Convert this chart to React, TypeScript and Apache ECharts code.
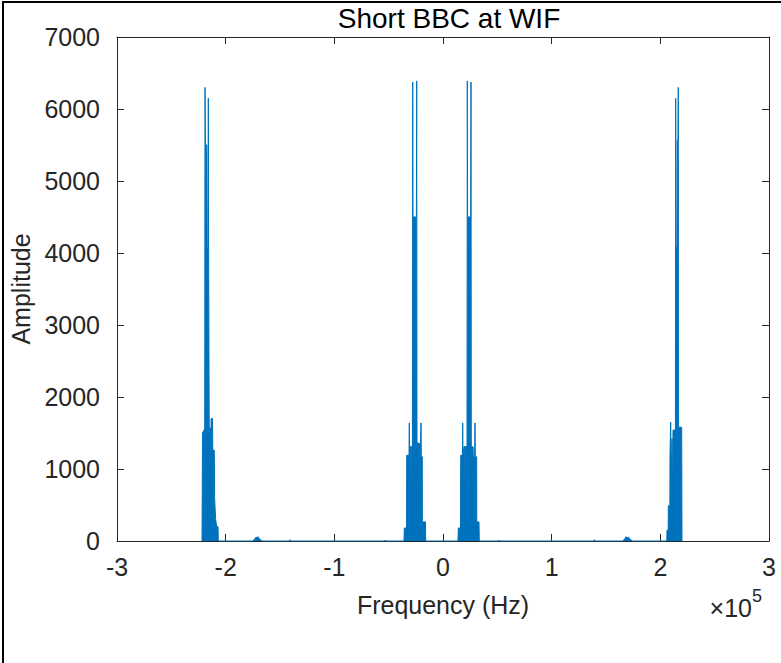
import React, { useEffect, useRef } from "react";
import * as echarts from "echarts";

// Frequencies in kHz, amplitudes
const outerLeftFreq = [-221.77, -221.31, -219.28, -219.01, -218.64, -217.26, -216.98, -216.15, -215.97, -215.69, -215.33, -215.14, -213.95, -213.67, -213.39, -212.11, -211.83, -210.45, -210.17, -209.53, -209.25, -208.24, -207.05, -206.77];
const outerLeftAmp = [0, 1500, 1560, 6300, 5500, 5500, 4080, 4080, 6150, 4080, 4080, 1570, 1570, 610, 1700, 1700, 1260, 1260, 600, 600, 300, 200, 200, 0];

const bumpLeftFreq = [-174.8, -173.0, -171.9, -171.2, -170.3, -169.0, -166.6];
const bumpLeftAmp = [0, 35, 55, 45, 60, 30, 0];

const tinyLeftFreq = [-141.2, -140.8, -140.4, -53.8, -53.4, -53.0];
const tinyLeftAmp = [0, 18, 0, 0, 12, 0];

const innerLeftFreq = [-35.89, -35.61, -33.59, -33.40, -31.29, -31.01, -30.73, -29.63, -29.45, -29.26, -28.16, -27.88, -27.61, -24.48, -24.20, -23.93, -22.27, -22.08, -21.90, -20.89, -20.24, -19.97, -19.05, -18.96, -16.10, -15.92];
const innerLeftAmp = [0, 180, 180, 1190, 1190, 1640, 1310, 1310, 640, 1310, 1310, 6375, 4500, 4500, 6390, 1360, 1360, 640, 1360, 1170, 1640, 1170, 1170, 265, 265, 0];

const innerRightFreq = [13.80, 14.08, 16.10, 16.29, 17.85, 18.13, 18.40, 19.32, 20.06, 20.24, 20.43, 22.08, 22.36, 22.64, 25.49, 25.77, 26.04, 27.15, 27.33, 27.51, 27.88, 29.17, 29.45, 29.72, 31.01, 31.10, 33.13, 33.40];
const innerRightAmp = [0, 180, 180, 1190, 1190, 1640, 1190, 1310, 1310, 600, 1310, 1310, 6390, 4500, 4500, 6375, 1310, 1310, 600, 1310, 1170, 1170, 1640, 1170, 1170, 265, 265, 0];

const tinyRightFreq = [51.1, 51.5, 51.9, 139.0, 139.4, 139.8];
const tinyRightAmp = [0, 12, 0, 0, 18, 0];

const bumpRightFreq = [165.6, 167.2, 168.6, 169.5, 170.4, 171.8, 173.9];
const bumpRightAmp = [0, 30, 60, 45, 55, 35, 0];

const outerRightFreq = [205.94, 206.12, 207.23, 207.32, 208.79, 208.89, 209.53, 209.81, 210.54, 210.73, 211.09, 211.37, 211.65, 213.85, 214.13, 214.41, 215.33, 215.51, 216.25, 216.52, 216.80, 219.65, 219.93];
const outerRightAmp = [0, 150, 150, 490, 490, 1190, 1650, 1190, 1190, 1420, 1420, 600, 1540, 1540, 6150, 4080, 4080, 5570, 5570, 6300, 1580, 1580, 0];

const xTicks = [-3, -2, -1, 0, 1, 2, 3];
const yTicks = [0, 1000, 2000, 3000, 4000, 5000, 6000, 7000];

const FONT = "'Liberation Sans', Arial, Helvetica, sans-serif";
const AX = "#262626";

function pairs(f: number[], a: number[]) {
  return f.map((v, i) => [v * 1000, a[i]]);
}

export default function App() {
  const ref = useRef<HTMLDivElement>(null);
  useEffect(() => {
    if (!ref.current) return;
    const chart = echarts.init(ref.current, null, { renderer: "svg" });
    const data = [
      ...pairs(outerLeftFreq, outerLeftAmp),
      ...pairs(bumpLeftFreq, bumpLeftAmp),
      ...pairs(tinyLeftFreq, tinyLeftAmp),
      ...pairs(innerLeftFreq, innerLeftAmp),
      ...pairs(innerRightFreq, innerRightAmp),
      ...pairs(tinyRightFreq, tinyRightAmp),
      ...pairs(bumpRightFreq, bumpRightAmp),
      ...pairs(outerRightFreq, outerRightAmp),
    ];
    const xMin = xTicks[0] * 1e5;
    const xMax = xTicks[xTicks.length - 1] * 1e5;
    const yMax = yTicks[yTicks.length - 1];
    const common = {
      axisLine: { show: true, onZero: false, lineStyle: { color: AX, width: 1 } },
      axisTick: { show: true, inside: true, length: 7, lineStyle: { color: AX, width: 1 } },
      splitLine: { show: false },
    };
    chart.setOption({
      animation: false,
      backgroundColor: "#ffffff",
      title: {
        text: "Short BBC at WIF",
        left: 444,
        top: -1,
        textAlign: "center",
        textStyle: { fontFamily: FONT, fontSize: 28, fontWeight: "normal", color: "#000" },
      },
      grid: { left: 117, right: 12, top: 37, bottom: 122, containLabel: false },
      xAxis: [
        {
          type: "value",
          min: xMin,
          max: xMax,
          interval: 1e5,
          position: "bottom",
          ...common,
          axisLabel: {
            show: true,
            margin: 13,
            color: AX,
            fontFamily: FONT,
            fontSize: 25,
            formatter: (v: number) => String(Math.round(v / 1e5)),
          },
          name: "Frequency (Hz)",
          nameLocation: "middle",
          nameGap: 51,
          nameTextStyle: { fontFamily: FONT, fontSize: 25, color: AX },
        },
        {
          type: "value",
          min: xMin,
          max: xMax,
          interval: 1e5,
          position: "top",
          ...common,
          axisLabel: { show: false },
        },
      ],
      yAxis: [
        {
          type: "value",
          min: 0,
          max: yMax,
          interval: 1000,
          position: "left",
          ...common,
          axisLabel: {
            show: true,
            margin: 17,
            color: AX,
            fontFamily: FONT,
            fontSize: 25,
            formatter: (v: number) => String(v),
          },
          name: "Amplitude",
          nameLocation: "middle",
          nameGap: 78,
          nameTextStyle: { fontFamily: FONT, fontSize: 25, color: AX },
        },
        {
          type: "value",
          min: 0,
          max: yMax,
          interval: 1000,
          position: "right",
          ...common,
          axisLabel: { show: false },
        },
      ],
      series: [
        {
          type: "line",
          data,
          showSymbol: false,
          symbol: "none",
          color: "#0072BD",
          lineStyle: { color: "#0072BD", width: 1 },
          areaStyle: { color: "#0072BD", opacity: 1 },
          z: 3,
        },
      ],
      graphic: [
        {
          type: "polyline",
          shape: { points: [[3, 663], [3, 2], [781, 2]] },
          style: { stroke: "#000", lineWidth: 2, fill: null },
          silent: true,
        },
        {
          type: "text",
          x: 752,
          y: 608,
          style: { text: "×10", fontFamily: FONT, fontSize: 25, fill: AX, align: "right", verticalAlign: "middle" },
        },
        {
          type: "text",
          x: 752,
          y: 596,
          style: { text: "5", fontFamily: FONT, fontSize: 18, fill: AX, align: "left", verticalAlign: "middle" },
        },
      ],
    });
    return () => chart.dispose();
  }, []);
  return (
    <div
      ref={ref}
      style={{ position: "absolute", left: 0, top: 0, width: 781, height: 663, background: "#fff" }}
    />
  );
}
